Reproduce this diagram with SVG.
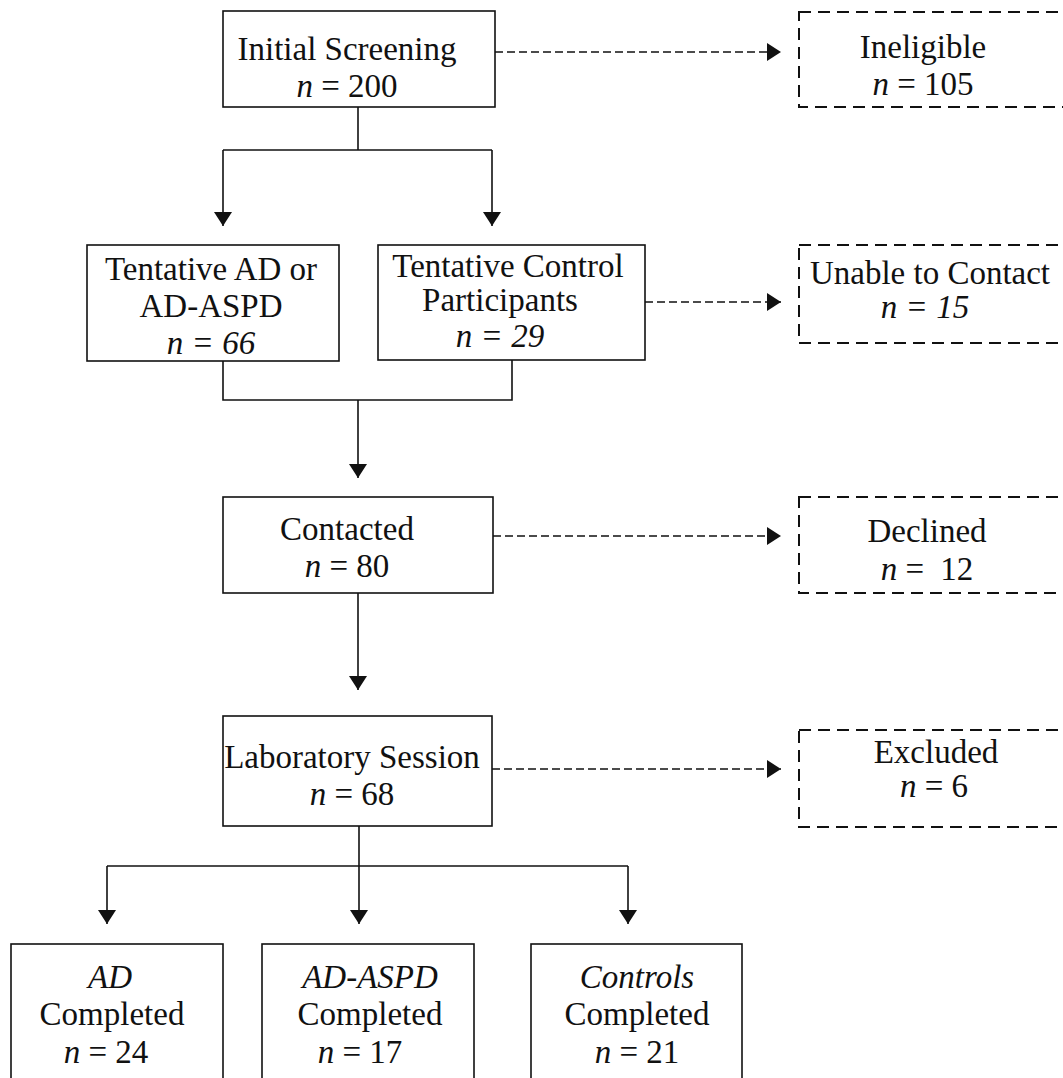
<svg xmlns="http://www.w3.org/2000/svg" width="1063" height="1078" viewBox="0 0 1063 1078">
<style>
  text { font-family: "Liberation Serif", "Times New Roman", serif; font-size: 33px; fill: #111; text-anchor: middle; }
  .i { font-style: italic; }
  .box { fill: #fff; stroke: #111; stroke-width: 1.6; }
  .dbox { fill: #fff; stroke: #111; stroke-width: 2; stroke-dasharray: 12 7; }
  .ln { fill: none; stroke: #111; stroke-width: 1.6; }
  .dl { fill: none; stroke: #111; stroke-width: 1.6; stroke-dasharray: 8 4; }
</style>
<defs>
  <marker id="ah" viewBox="0 0 14 18" refX="14" refY="9" markerWidth="14" markerHeight="18" markerUnits="userSpaceOnUse" orient="auto">
    <path d="M0,0 L14,9 L0,18 Z" fill="#111" stroke="none"/>
  </marker>
</defs>
<rect width="1063" height="1078" fill="#fff"/>

<g id="connectors">
  <polyline class="ln" points="358,107 358,150"/>
  <polyline class="ln" points="223,150 492,150"/>
  <line class="ln" x1="223" y1="150" x2="223" y2="226" marker-end="url(#ah)"/>
  <line class="ln" x1="492" y1="150" x2="492" y2="226" marker-end="url(#ah)"/>
  <polyline class="ln" points="223,361 223,400 512,400 512,360"/>
  <line class="ln" x1="358" y1="400" x2="358" y2="478" marker-end="url(#ah)"/>
  <line class="ln" x1="358" y1="593" x2="358" y2="690" marker-end="url(#ah)"/>
  <polyline class="ln" points="359,826 359,866"/>
  <polyline class="ln" points="107,866 628,866"/>
  <line class="ln" x1="107" y1="866" x2="107" y2="924" marker-end="url(#ah)"/>
  <line class="ln" x1="359" y1="866" x2="359" y2="924" marker-end="url(#ah)"/>
  <line class="ln" x1="628" y1="866" x2="628" y2="924" marker-end="url(#ah)"/>
  <line class="dl" x1="495" y1="52" x2="781" y2="52" marker-end="url(#ah)"/>
  <line class="dl" x1="645" y1="302" x2="781" y2="302" marker-end="url(#ah)"/>
  <line class="dl" x1="493" y1="536" x2="781" y2="536" marker-end="url(#ah)"/>
  <line class="dl" x1="492" y1="769" x2="781" y2="769" marker-end="url(#ah)"/>
</g>

<g id="initial">
  <rect class="box" x="223" y="11" width="272" height="96"/>
  <text x="347" y="60">Initial Screening</text>
  <text x="347" y="97"><tspan class="i">n</tspan> = 200</text>
</g>
<g id="ineligible">
  <rect class="dbox" x="799" y="12" width="280" height="95"/>
  <text x="923" y="58">Ineligible</text>
  <text x="923" y="95"><tspan class="i">n</tspan> = 105</text>
</g>

<g id="tentative-ad">
  <rect class="box" x="87" y="245" width="252" height="116"/>
  <text x="211" y="280">Tentative AD or</text>
  <text x="211" y="317">AD-ASPD</text>
  <text x="211" y="354" class="i">n = 66</text>
</g>
<g id="tentative-control">
  <rect class="box" x="378" y="245" width="267" height="115"/>
  <text x="508" y="277">Tentative Control</text>
  <text x="500" y="311">Participants</text>
  <text x="500" y="347" class="i">n = 29</text>
</g>
<g id="unable">
  <rect class="dbox" x="799" y="245" width="280" height="98"/>
  <text x="930" y="284">Unable to Contact</text>
  <text x="925" y="318" class="i">n = 15</text>
</g>

<g id="contacted">
  <rect class="box" x="223" y="497" width="270" height="96"/>
  <text x="347" y="540">Contacted</text>
  <text x="347" y="577"><tspan class="i">n</tspan> = 80</text>
</g>
<g id="declined">
  <rect class="dbox" x="799" y="497" width="280" height="96"/>
  <text x="927" y="542">Declined</text>
  <text x="927" y="580"><tspan class="i">n</tspan> =  <tspan dx="8">12</tspan></text>
</g>

<g id="lab">
  <rect class="box" x="223" y="716" width="269" height="110"/>
  <text x="352" y="768">Laboratory Session</text>
  <text x="352" y="805"><tspan class="i">n</tspan> = 68</text>
</g>
<g id="excluded">
  <rect class="dbox" x="799" y="730" width="280" height="97"/>
  <text x="936" y="763">Excluded</text>
  <text x="934" y="797"><tspan class="i">n</tspan> = 6</text>
</g>

<g id="ad-completed">
  <rect class="box" x="11" y="944" width="212" height="150"/>
  <text x="110" y="988" class="i">AD</text>
  <text x="112" y="1025">Completed</text>
  <text x="106" y="1063"><tspan class="i">n</tspan> = 24</text>
</g>
<g id="adaspd-completed">
  <rect class="box" x="262" y="944" width="212" height="150"/>
  <text x="370" y="988" class="i">AD-ASPD</text>
  <text x="370" y="1025">Completed</text>
  <text x="360" y="1063"><tspan class="i">n</tspan> = 17</text>
</g>
<g id="controls-completed">
  <rect class="box" x="531" y="944" width="211" height="150"/>
  <text x="637" y="988" class="i">Controls</text>
  <text x="637" y="1025">Completed</text>
  <text x="637" y="1063"><tspan class="i">n</tspan> = 21</text>
</g>
</svg>
